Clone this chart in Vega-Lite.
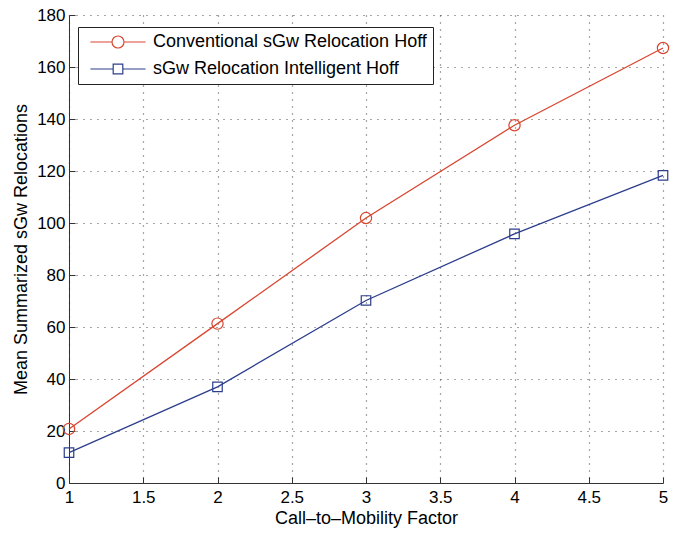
{
  "$schema": "https://vega.github.io/schema/vega-lite/v6.json",
  "width": 594,
  "height": 468,
  "autosize": {"type": "none"},
  "padding": {"left": 69, "top": 15, "right": 18, "bottom": 50},
  "background": "white",
  "config": {
    "font": "Liberation Sans",
    "view": {"stroke": null},
    "axis": {
      "labelFont": "Liberation Sans",
      "titleFont": "Liberation Sans",
      "labelFontSize": 17,
      "titleFontSize": 18,
      "titleFontWeight": "normal",
      "labelColor": "black",
      "titleColor": "black",
      "labelFlush": false,
      "labelOverlap": false,
      "domainColor": "#333",
      "tickColor": "#333",
      "gridColor": "#222",
      "gridDash": [1, 6],
      "gridWidth": 1.2,
      "gridOpacity": 0.8
    }
  },
  "data": {
    "values": [
      {"x": 1, "y": 20.8, "series": "Conventional sGw Relocation Hoff"},
      {"x": 2, "y": 61.3, "series": "Conventional sGw Relocation Hoff"},
      {"x": 3, "y": 101.9, "series": "Conventional sGw Relocation Hoff"},
      {"x": 4, "y": 137.6, "series": "Conventional sGw Relocation Hoff"},
      {"x": 5, "y": 167.3, "series": "Conventional sGw Relocation Hoff"},
      {"x": 1, "y": 11.7, "series": "sGw Relocation Intelligent Hoff"},
      {"x": 2, "y": 37.0, "series": "sGw Relocation Intelligent Hoff"},
      {"x": 3, "y": 70.2, "series": "sGw Relocation Intelligent Hoff"},
      {"x": 4, "y": 95.8, "series": "sGw Relocation Intelligent Hoff"},
      {"x": 5, "y": 118.3, "series": "sGw Relocation Intelligent Hoff"}
    ]
  },
  "encoding": {
    "x": {
      "field": "x", "type": "quantitative",
      "scale": {"domain": [1, 5], "nice": false, "zero": false},
      "axis": {"values": [1, 1.5, 2, 2.5, 3, 3.5, 4, 4.5, 5], "format": "~g", "title": "Call\u2013to\u2013Mobility Factor", "tickSize": -6, "labelPadding": 12, "titlePadding": 4}
    },
    "y": {
      "field": "y", "type": "quantitative",
      "scale": {"domain": [0, 180], "nice": false},
      "axis": {"values": [0, 20, 40, 60, 80, 100, 120, 140, 160, 180], "title": "Mean Summarized sGw Relocations", "tickSize": -6, "labelPadding": 10, "titlePadding": 6}
    },
    "color": {
      "field": "series", "type": "nominal",
      "scale": {"domain": ["Conventional sGw Relocation Hoff", "sGw Relocation Intelligent Hoff"], "range": ["#d9462f", "#2c3e8c"]},
      "legend": {
        "title": null,
        "orient": "none",
        "legendX": 9,
        "legendY": 12,
        "strokeColor": "#222",
        "fillColor": "white",
        "padding": 6,
        "labelFontSize": 18,
        "labelLimit": 0,
        "labelColor": "black",
        "labelFont": "Liberation Sans",
        "symbolSize": 144,
        "symbolStrokeWidth": 1.2,
        "symbolOffset": 25,
        "labelOffset": 26,
        "rowPadding": 9
      }
    }
  },
  "layer": [
    {"mark": {"type": "line", "strokeWidth": 1.3}},
    {"mark": {"type": "point", "filled": false, "strokeWidth": 1.2, "opacity": 1},
     "encoding": {
       "shape": {"condition": {"test": "datum.series == 'Conventional sGw Relocation Hoff'", "value": "circle"}, "value": "square"},
       "size": {"condition": {"test": "datum.series == 'Conventional sGw Relocation Hoff'", "value": 127}, "value": 90}
     }},
    {"mark": {"type": "point", "filled": false, "size": 0, "strokeWidth": 1.2},
     "encoding": {
       "shape": {"field": "series", "type": "nominal", "scale": {"domain": ["Conventional sGw Relocation Hoff", "sGw Relocation Intelligent Hoff"], "range": ["M-4.6,0L-1,0M1,0L4.6,0M-1,0A1,1,0,1,1,1,0A1,1,0,1,1,-1,0", "M-4.6,0L-0.8,0M0.8,0L4.6,0M-0.8,-0.8L0.8,-0.8L0.8,0.8L-0.8,0.8Z"]}}
     }}
  ]
}
